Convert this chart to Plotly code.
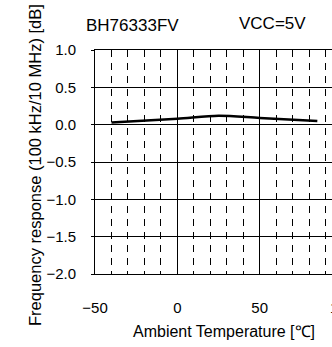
import plotly.graph_objects as go

temperature = [-40, 0, 25, 50, 85]
response_db = [0.03, 0.08, 0.12, 0.09, 0.05]

x_tick_vals = [-50, 0, 50]
x_tick_text = ["\u221250", "0", "50"]
y_tick_vals = [1.0, 0.5, 0.0, -0.5, -1.0, -1.5, -2.0]
y_tick_text = ["1.0", "0.5", "0.0", "\u22120.5", "\u22121.0", "\u22121.5", "\u22122.0"]

FONT = "Liberation Sans, Arial, Helvetica, sans-serif"

W, H = 332, 347
ML, MR, MT, MB = 95, 0, 50, 73
PW = W - ML - MR
PH = H - MT - MB


def px_x(px):
    return (px - ML) / PW


def px_y(py_from_top):
    return ((H - py_from_top) - MB) / PH


fig = go.Figure()
fig.add_trace(go.Scatter(
    x=temperature, y=response_db, mode="lines",
    line=dict(color="black", width=2.5, shape="spline", smoothing=0.8),
    showlegend=False, hoverinfo="skip",
))

fig.update_layout(
    width=W, height=H,
    margin=dict(l=ML, r=MR, t=MT, b=MB),
    paper_bgcolor="white", plot_bgcolor="white",
    font=dict(family=FONT, color="black", size=15),
    xaxis=dict(
        range=[-50, 93.9], tickvals=x_tick_vals, ticktext=x_tick_text,
        showgrid=True, gridcolor="black", gridwidth=1,
        showline=True, linecolor="black", linewidth=1, mirror=True,
        ticks="", ticklabelstandoff=20, zeroline=False,
        minor=dict(dtick=10, tick0=-50, showgrid=True, gridcolor="black",
                   gridwidth=1, griddash="7px,6px", ticks=""),
        tickfont=dict(size=15),
    ),
    yaxis=dict(
        range=[-2.0, 1.0], tickvals=y_tick_vals, ticktext=y_tick_text,
        showgrid=True, gridcolor="black", gridwidth=1,
        showline=True, linecolor="black", linewidth=1, mirror=False,
        ticks="outside", ticklen=3, tickcolor="black", ticklabelstandoff=12,
        zeroline=False, tickfont=dict(size=15),
    ),
    annotations=[
        dict(text="BH76333FV", x=px_x(132), y=px_y(25), xref="paper", yref="paper",
             xanchor="center", yanchor="middle", showarrow=False, font=dict(size=17)),
        dict(text="VCC=5V", x=px_x(272), y=px_y(23), xref="paper", yref="paper",
             xanchor="center", yanchor="middle", showarrow=False, font=dict(size=17)),
        dict(text="Ambient Temperature [\u2103]", x=px_x(224), y=px_y(331),
             xref="paper", yref="paper", xanchor="center", yanchor="middle",
             showarrow=False, font=dict(size=16)),
        dict(text="Frequency response (100 kHz/10 MHz) [dB]", x=px_x(35), y=px_y(165),
             xref="paper", yref="paper", xanchor="center", yanchor="middle",
             showarrow=False, textangle=-90, font=dict(size=16.5)),
        dict(text="100", x=px_x(342), y=px_y(307), xref="paper", yref="paper",
             xanchor="center", yanchor="middle", showarrow=False, font=dict(size=15)),
    ],
)

fig.write_html(
    "out.html",
    config={"displayModeBar": False, "staticPlot": True},
    post_script="document.body.style.margin='0';document.body.style.overflow='hidden';",
)
